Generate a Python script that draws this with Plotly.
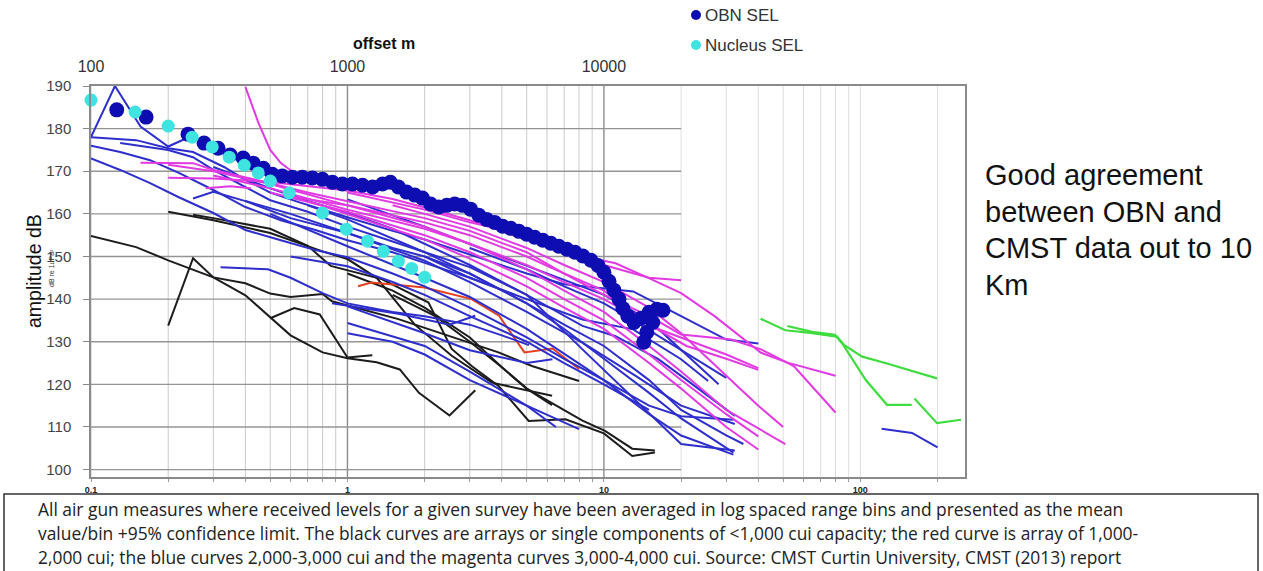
import plotly.graph_objects as go

# ---------------- data (range in km, level in dB) ----------------
OBN_KM = [0.126, 0.164, 0.239, 0.276, 0.313, 0.349, 0.392, 0.429, 0.47, 0.509, 0.557, 0.61, 0.667,
          0.73, 0.799, 0.874, 0.956, 1.046, 1.145, 1.253, 1.37, 1.47, 1.58, 1.70, 1.83, 1.96, 2.11,
          2.27, 2.44, 2.62, 2.81, 3.02, 3.25, 3.49, 3.75, 4.03, 4.33, 4.66, 5.0, 5.37, 5.78, 6.21,
          6.67, 7.17, 7.71, 8.28, 8.9, 9.48, 10.0, 10.47, 10.94, 11.45, 11.86, 12.4, 13.1, 13.96,
          15.0, 16.1, 17.0, 15.5, 14.7, 14.3]
OBN_DB = [184.4, 182.7, 178.7, 176.6, 175.4, 173.8, 173.1, 171.9, 170.7, 169.3, 168.9, 168.6, 168.6,
          168.4, 168.1, 167.4, 167.0, 167.0, 166.7, 166.3, 167.0, 167.4, 166.3, 165.1, 164.4, 163.7, 162.3,
          161.6, 162.0, 162.3, 162.0, 161.1, 159.7, 158.7, 158.0, 157.1, 156.6, 155.9, 155.2, 154.5, 153.8, 153.1,
          152.4, 151.7, 151.0, 150.1, 149.1, 147.9, 146.3, 144.2, 142.1, 140.0, 137.8, 136.0, 134.5, 135.5,
          136.9, 137.6, 137.4, 134.5, 132.2, 129.9]

NUC_KM = [0.1, 0.1486, 0.2, 0.248, 0.297, 0.346, 0.396, 0.449, 0.5, 0.593, 0.799, 0.99, 1.197,
          1.38, 1.58, 1.78, 2.0]
NUC_DB = [186.7, 183.9, 180.6, 178.0, 175.7, 173.3, 171.4, 169.6, 167.7, 164.9, 160.2, 156.4, 153.6,
          151.2, 148.9, 147.2, 145.1]

BLACK_CURVES = [
    ([0.1, 0.15, 0.2, 0.3, 0.4, 0.5, 0.6, 0.8, 1.0, 1.3, 1.6, 1.9, 2.5, 3.15],
     [154.8, 152.2, 149.1, 145.1, 140.9, 135.7, 131.5, 127.5, 126.1, 125.2, 123.5, 118, 112.7, 118.6]),
    ([0.2, 0.25, 0.3, 0.4, 0.5, 0.6, 0.8, 0.87, 1.58, 2.48, 3.88, 5.24, 8],
     [133.8, 149.6, 145.1, 143.7, 141.3, 140.5, 141.2, 139.5, 135.3, 131.4, 127.5, 124.3, 120.8]),
    ([0.5, 0.62, 0.78, 1.0, 1.25], [135.5, 137.9, 136.4, 126.3, 126.8]),
    ([0.2, 0.3, 0.5, 0.8, 1.0, 1.3, 1.83, 2.55, 3.66, 6.28],
     [160.5, 158.5, 155.5, 151.2, 149.4, 145, 134, 126.7, 120.4, 117.3]),
    ([0.25, 0.3, 0.5, 0.7, 0.86, 1.36, 2.07, 2.55, 3.05, 3.88, 5.09, 7.08, 10, 12.9, 15.8],
     [159.8, 159, 156.5, 152.5, 147.8, 144.7, 139.2, 128.3, 124.3, 119.6, 111.4, 111.8, 108.5, 103.2, 104]),
    ([1.0, 1.5, 2, 3, 4, 5, 6.28], [146, 142, 138, 131, 124, 119, 115.1]),
    ([1.5, 2.2, 3, 4, 5, 7, 8.25, 10.1, 12.9, 15.8], [141, 136, 130, 124, 119, 114, 111.5, 109.1, 104.9, 104.5]),
]

RED_KM = [1.1, 1.24, 2.0, 3.05, 3.9, 4.9, 6.3, 8]
RED_DB = [143, 143.9, 142.7, 140, 136.1, 127.5, 128.4, 123.6]

BLUE_CURVES = [
    ([0.1, 0.124, 0.156, 0.2, 0.237], [178, 190, 180.5, 175.8, 177.8]),
    ([0.1, 0.15, 0.2, 0.25, 0.33, 0.4, 0.5, 0.65, 1, 1.5, 2, 3, 5, 7, 10, 13, 20, 30, 40],
     [178, 177.3, 175.4, 174.5, 171, 168, 165, 162.7, 159.2, 156, 154, 150.5, 146, 143.5, 142.5, 141.8, 136, 130.5, 129.6]),
    ([0.1, 0.13, 0.17, 0.22, 0.3, 0.4, 0.55, 0.75, 1, 1.5, 2, 3, 5, 8.25, 13, 20, 25.5],
     [176, 174.5, 172.6, 169.6, 165.6, 161.6, 158.5, 156.2, 153.8, 151, 148.5, 145, 140, 135.2, 132.9, 125.9, 120.8]),
    ([0.1, 0.13, 0.17, 0.22, 0.3, 0.4, 0.55, 0.75, 1, 1.5, 2, 3, 5, 7, 10, 15, 20, 32],
     [173, 170.3, 167.2, 163.9, 160.2, 156.2, 153.8, 151.5, 149.8, 146, 143, 138, 131, 126, 121, 115, 112.5, 111.7]),
    ([0.13, 0.2, 0.25, 0.3, 0.4, 0.5, 0.7, 1, 1.5, 2, 3, 5, 8.25, 11.1, 16.3, 20, 32.4],
     [176.6, 175, 173.3, 170.3, 166.3, 163.2, 160.5, 157, 153.5, 151, 147.5, 141, 133.7, 131.3, 125.9, 122, 112.6]),
    ([0.25, 0.3, 0.4, 0.6, 1, 2, 3, 5, 8.25, 13.3, 20, 32.4],
     [163.6, 165.2, 163, 159, 155.5, 149, 144, 137, 129.8, 122, 115, 110.7]),
    ([0.32, 0.49, 0.6, 0.8, 1, 1.5, 2, 3, 4, 5.1],
     [147.5, 147, 145, 141.4, 139, 137, 136, 134, 131.5, 129.2]),
    ([0.3, 0.5, 0.7, 1, 1.5, 2, 3, 5, 8.25, 20, 32.4],
     [171, 166, 163, 160.2, 156.5, 153, 148, 141, 128.2, 106, 104.5]),
    ([0.5, 1, 2, 3, 5, 8, 10, 15, 20, 32], [160, 152.4, 145, 140.5, 133, 125, 121, 113, 108, 103.5]),
    ([0.87, 1.6, 2.5, 3.15], [139, 136.5, 134, 136.1]),
    ([1, 2, 3, 5, 6.3], [138.3, 132, 128, 125, 125.9]),
    ([1, 2, 3, 5, 8], [134.4, 129, 123, 115, 109.5]),
    ([1, 1.5, 2, 3, 5, 6.5], [132, 130, 127, 121, 115, 110]),
    ([2, 3, 5, 7, 10, 15, 20, 30, 32], [150, 146, 139, 133, 126, 118, 112, 105, 104]),
    ([3, 5, 7, 10, 13, 20, 30], [152, 147, 143, 139, 135, 128, 121.5]),
    ([0.7, 1, 2, 3, 5, 7, 10, 15, 20, 30, 35], [162, 158.7, 151, 146, 139, 134, 129, 121, 114, 108, 106]),
    ([1, 2, 4, 6, 10, 15, 20, 28], [163.4, 157, 150, 146, 141, 135, 128, 120]),
    ([0.4, 0.6, 1, 1.5, 2, 3, 4.5], [163, 160, 155.5, 152, 150, 145, 141]),
    ([0.6, 1, 1.5, 2, 3, 5, 7, 10, 15], [150, 147.7, 144, 141, 136, 130, 125, 120, 114]),
    ([121, 159, 200], [109.6, 108.6, 105.2]),
]

MAGENTA_CURVES = [
    ([0.4, 0.45, 0.5, 0.55, 0.62, 0.7, 1, 1.5, 2, 3, 5, 7, 10, 11.1, 14.9, 20, 27, 34, 41, 52, 80],
     [189.8, 181.3, 175, 171.9, 169.6, 167.9, 165.5, 163.5, 161.5, 158.5, 154, 151, 149, 148.4, 145, 141.4, 136, 131.3, 127.4, 125.1, 122]),
    ([0.156, 0.25, 0.3, 0.4, 0.5, 0.7, 1, 2, 3, 5, 7, 10, 15, 20, 31.4, 41, 55, 80],
     [172, 171.9, 170.3, 168.6, 167.2, 165, 163, 159, 156, 151, 146, 141, 136, 131.7, 130.5, 128.2, 124.3, 113.4]),
    ([0.2, 0.3, 0.5, 1, 2, 3, 5, 7, 10, 15.4, 21.2, 30, 40],
     [171.5, 170, 167, 162, 158, 155, 150, 146, 142, 133.5, 130.4, 127, 123.8]),
    ([0.3, 0.5, 1, 2, 3, 5, 7, 10, 15, 21, 30, 40],
     [169, 166, 161, 156.5, 153, 148, 144, 140, 134, 129, 126, 123.4]),
    ([0.5, 1, 2, 3, 5, 7, 10, 15, 20, 30, 40], [165, 160.5, 155, 151, 145, 140, 135, 127, 121, 113, 107.8]),
    ([0.6, 1, 2, 3, 5, 7, 10, 15, 20, 30, 51], [164, 162, 157, 153, 147, 142, 137, 129, 123, 114, 106]),
    ([0.7, 1, 2, 3, 5, 7, 10, 15, 20, 30, 40], [163, 160, 154, 149.5, 143, 138, 133, 125, 119, 110, 104.7]),
    ([1, 2, 3, 5, 7, 10, 15, 20], [165, 161, 158, 155, 152, 148, 145, 144.4]),
    ([0.28, 0.35, 0.42], [166, 166.5, 166]),
    ([1.5, 2, 3, 5, 7, 10, 15, 20, 30, 40, 50], [162, 160, 157, 152, 148, 144, 138, 132, 122, 115, 110]),
    ([0.2, 0.3, 0.5, 0.7, 1], [168.5, 168.3, 167.5, 166.5, 165.5]),
]

GREEN_CURVES = [
    ([40.8, 51, 65, 81, 86.6, 101.6, 127, 199], [135.4, 132.7, 132, 131.2, 129.2, 126.5, 124.9, 121.4]),
    ([51.9, 64.9, 79.5, 85, 105, 127, 158.6], [133.7, 132.3, 131.6, 129.6, 121, 115.2, 115.2]),
    ([162.5, 199, 247], [116.7, 110.9, 111.7]),
]

DB_GRID = [100, 110, 120, 130, 140, 150, 160, 170, 180]
Y_TICKS = [100, 110, 120, 130, 140, 150, 160, 170, 180, 190]
X_LABELS = {0.1: "0.1", 1: "1", 10: "10", 100: "100"}
TOP_TICKS = [100, 1000, 10000]

CAPTION = [
    "All air gun measures where received levels for a given survey have been averaged in log spaced range bins and presented as the mean",
    "value/bin +95% confidence limit. The black curves are arrays or single components of &lt;1,000 cui capacity; the red curve is array of 1,000-",
    "2,000 cui; the blue curves 2,000-3,000 cui and the magenta curves 3,000-4,000 cui. Source: CMST Curtin University, CMST (2013) report",
]
NOTE = ["Good agreement", "between OBN and", "CMST data out to 10", "Km"]

# ---------------- layout geometry ----------------
FW, FH = 1263, 571
L, R, T, B = 91, 965, 86, 477
Y_MIN, Y_MAX = 98.26, 190
X_LOG_RANGE = [-1, 2.408]
FONT = "Liberation Sans, Arial, sans-serif"


def px(x):
    return (x - L) / (R - L)


def py(y):
    return (B - y) / (B - T)


# grid positions (1..9 x each decade)
grid_x = []
for dec in [0.1, 1, 10, 100]:
    for k in range(1, 10):
        v = round(k * dec, 6)
        if v <= 250:
            grid_x.append(v)

fig = go.Figure()


def add_lines(xs, ys, color, width):
    fig.add_trace(go.Scatter(x=xs, y=ys, mode="lines", line=dict(color=color, width=width),
                             hoverinfo="skip", showlegend=False))


# vertical grid
minor_x, minor_y, major_x, major_y, far_x, far_y = [], [], [], [], [], []
for v in grid_x:
    if v in (1, 10):
        major_x += [v, v, None]; major_y += [Y_MIN, Y_MAX, None]
    elif v <= 10:
        minor_x += [v, v, None]; minor_y += [Y_MIN, Y_MAX, None]
    else:
        far_x += [v, v, None]; far_y += [Y_MIN, Y_MAX, None]
add_lines(far_x, far_y, "#dedede", 1)
add_lines(minor_x, minor_y, "#cacaca", 1)
add_lines(major_x, major_y, "#8c8c8c", 1.4)
# horizontal grid (left panel only, up to 20 km)
hx, hy = [], []
for d in DB_GRID:
    hx += [0.1, 20, None]; hy += [d, d, None]
add_lines(hx, hy, "#959595", 1.4)

for xs, ys in BLACK_CURVES:
    add_lines(xs, ys, "#1c1c1c", 2)
add_lines(RED_KM, RED_DB, "#e2401f", 2)
for xs, ys in BLUE_CURVES:
    add_lines(xs, ys, "#2e2ecc", 2)
for xs, ys in MAGENTA_CURVES:
    add_lines(xs, ys, "#e23ae2", 2)
for xs, ys in GREEN_CURVES:
    add_lines(xs, ys, "#3fdc3f", 2.2)

fig.add_trace(go.Scatter(x=OBN_KM, y=OBN_DB, mode="markers", name="OBN SEL",
                         marker=dict(color="#0d0db2", size=15), cliponaxis=False, showlegend=False))
fig.add_trace(go.Scatter(x=NUC_KM, y=NUC_DB, mode="markers", name="Nucleus SEL",
                         marker=dict(color="#3fe3df", size=13), cliponaxis=False, showlegend=False))
# carrier for the top (metres) axis
fig.add_trace(go.Scatter(x=[100, 10000], y=[None, None], xaxis="x2", mode="lines",
                         hoverinfo="skip", showlegend=False))

ann = []


def text(t, x, y, size, color="#222", xanchor="left", yanchor="middle", weight="normal",
         family=FONT, angle=0):
    ann.append(dict(text=t, x=px(x), y=py(y), xref="paper", yref="paper", showarrow=False,
                    xanchor=xanchor, yanchor=yanchor, textangle=angle,
                    font=dict(size=size, color=color, family=family, weight=weight)))


text("offset m", 384, 44, 16, "#111", xanchor="center", weight="bold")
text("amplitude dB", 34, 271, 19.5, "#111", xanchor="center", angle=-90)
text("dB re 1uPa²", 51, 268, 7, "#333", xanchor="center", angle=-90)
text("OBN SEL", 703, 15, 17, "#333")
text("Nucleus SEL", 703, 45, 17, "#333")
for i, line in enumerate(NOTE):
    text(line, 983, 175 + i * 36.5, 29, "#111")
for i, line in enumerate(CAPTION):
    text(line, 36, 509 + i * 24, 17.4, "#222", family="Open Sans, sans-serif")

shapes = [
    dict(type="circle", xref="paper", yref="paper", xsizemode="pixel", ysizemode="pixel",
         xanchor=px(696), yanchor=py(15), x0=-5, x1=5, y0=-5, y1=5,
         fillcolor="#0d0db2", line=dict(width=0)),
    dict(type="circle", xref="paper", yref="paper", xsizemode="pixel", ysizemode="pixel",
         xanchor=px(696), yanchor=py(45), x0=-5, x1=5, y0=-5, y1=5,
         fillcolor="#3fe3df", line=dict(width=0)),
    dict(type="rect", xref="paper", yref="paper", x0=px(4), x1=px(1258), y0=py(494), y1=py(585),
         line=dict(color="#333", width=1.5), fillcolor="rgba(0,0,0,0)"),
]

fig.update_layout(
    width=FW, height=FH, autosize=False,
    margin=dict(l=L, r=FW - R, t=T, b=FH - B, pad=0),
    paper_bgcolor="white", plot_bgcolor="white",
    showlegend=False,
    annotations=ann, shapes=shapes,
    xaxis=dict(type="log", range=X_LOG_RANGE, showgrid=False, zeroline=False,
               tickvals=grid_x, ticktext=[X_LABELS.get(v, "") for v in grid_x],
               ticks="outside", ticklen=3, tickcolor="#999",
               tickfont=dict(size=9, family=FONT, color="#222", weight="bold"),
               showline=True, linecolor="#8a8a8a", linewidth=1.5, mirror=True),
    xaxis2=dict(type="log", range=[X_LOG_RANGE[0] + 3, X_LOG_RANGE[1] + 3], overlaying="x",
                side="top", anchor="y", showgrid=False, zeroline=False, showline=False,
                tickvals=TOP_TICKS, ticktext=[str(v) for v in TOP_TICKS], ticks="",
                ticklabelstandoff=10, tickfont=dict(size=16, family=FONT, color="#333")),
    yaxis=dict(range=[Y_MIN, Y_MAX], showgrid=False, zeroline=False,
               tickvals=Y_TICKS, ticktext=[str(v) for v in Y_TICKS],
               ticks="outside", ticklen=6, tickcolor="#888", ticklabelstandoff=9,
               tickfont=dict(size=15, family=FONT, color="#444"),
               showline=True, linecolor="#8a8a8a", linewidth=1.5, mirror=True),
)

fig.write_html("out.html")
